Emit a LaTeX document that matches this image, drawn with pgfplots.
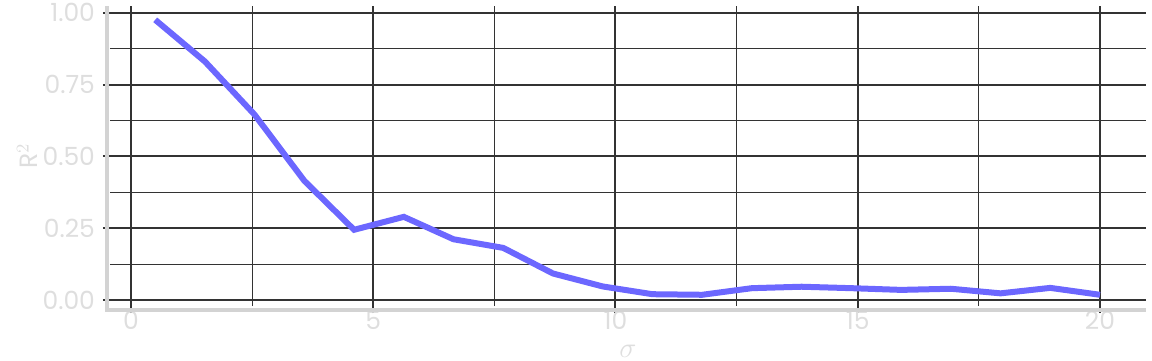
\documentclass[border=0pt]{standalone}
\usepackage{pgfplots}
\pgfplotsset{compat=1.18}
\usepackage{fontspec}
\setmainfont{Poppins}
\definecolor{linecol}{RGB}{108,103,255}
\definecolor{gridcol}{RGB}{51,51,51}
\definecolor{labcol}{RGB}{222,222,222}
\definecolor{axcol}{RGB}{211,211,211}
\begin{document}
\begin{tikzpicture}
\begin{axis}[
  scale only axis, width=518pt, height=150pt,
  xmin=-0.433, xmax=20.95, ymin=-0.02, ymax=1.023,
  xtick={0,5,10,15,20}, minor xtick={2.5,7.5,12.5,17.5},
  xticklabels={0,5,10,15,20},
  ytick={0,0.25,0.5,0.75,1}, minor ytick={0.125,0.375,0.625,0.875},
  yticklabels={0.00,0.25,0.50,0.75,1.00},
  grid=both,
  major grid style={gridcol, line width=1pt},
  minor grid style={gridcol, line width=0.5pt},
  axis line style={draw=none},
  xtick pos=bottom, ytick pos=left,
  tick align=outside, major tick length=3.5pt, minor tick length=0pt,
  tick style={gridcol, line width=1pt},
  ticklabel style={font=\fontsize{12.5}{14}\selectfont, text=labcol},
  xticklabel style={inner sep=0pt, yshift=1pt},
  yticklabel style={xshift=-0.5pt},
  every axis x label/.style={at={(axis description cs:0.5,-0.15)}, anchor=center, inner sep=0pt},
  every axis y label/.style={at={(axis description cs:-0.08,0.5)}, rotate=90, anchor=center},
  xlabel={\fontsize{13.5}{14}\selectfont\color{labcol}$\sigma$},
  ylabel={\fontsize{12.5}{14}\selectfont\color{labcol}R$^{2}$},
  clip=false,
]
\draw[axcol, line width=2pt] ([xshift=-1.5pt]rel axis cs:0,1) -- ([xshift=-1.5pt, yshift=-2.5pt]rel axis cs:0,0);
\draw[axcol, line width=2pt] ([xshift=-2.5pt, yshift=-1.75pt]rel axis cs:0,0) -- ([yshift=-1.75pt]rel axis cs:1,0);
\addplot[linecol, line width=3pt] coordinates {
(0.5,0.975) (1.5263,0.83) (2.5526,0.645) (3.5789,0.415) (4.6053,0.245)
(5.6316,0.29) (6.6579,0.212) (7.6842,0.182) (8.7105,0.093) (9.7368,0.048)
(10.7632,0.021) (11.7895,0.019) (12.8158,0.042) (13.8421,0.047) (14.8684,0.042)
(15.8947,0.036) (16.9211,0.04) (17.9474,0.024) (18.9737,0.043) (20.0,0.019)
};
\end{axis}
\pgfresetboundingbox
\path[use as bounding box] (0,0) ++(-55pt,-27pt) rectangle (521pt,153pt);
\end{tikzpicture}
\end{document}
